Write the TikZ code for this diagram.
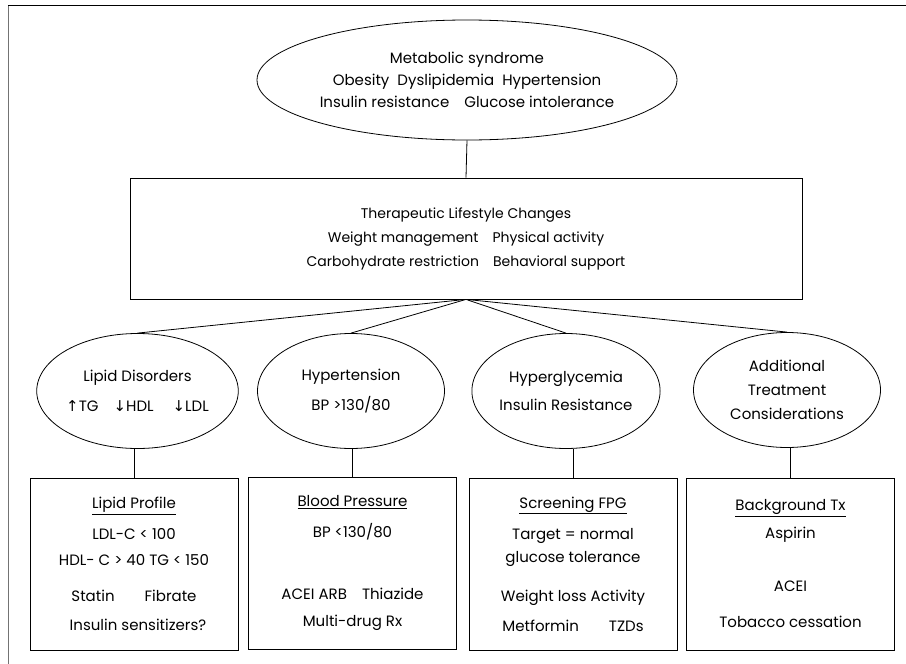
\documentclass[tikz,border=0pt]{standalone}
\usepackage{fontspec}
\setmainfont{Poppins}
\newfontfamily\arrowfont{DejaVu Sans}
\usetikzlibrary{shapes.geometric}
\tikzset{
    oval/.style={ellipse, draw, inner sep=0pt, align=center, font=\fontsize{15}{22}\selectfont},
    panel/.style={rectangle, draw, inner sep=0pt, align=center, font=\fontsize{15}{28}\selectfont},
    branch/.style={oval, minimum width=187pt, minimum height=115pt},
    goalbox/.style={panel, minimum width=208pt, minimum height=172pt}
}
\newcommand{\up}{{\arrowfont\char"2191}}
\newcommand{\down}{{\arrowfont\char"2193}}

\begin{document}
\begin{tikzpicture}[x=1pt, y=-1pt, every path/.style={line width=0.8pt}]
        \useasboundingbox (0,0) rectangle (906,664);

        % ---------------- frame ----------------
        \draw[black!55] (8,5) -- (8,664);
        \draw (8,5) -- (906,5);

        % ---------------- top level ----------------
        \node[oval, minimum width=420pt, minimum height=120pt] (mets) at (467,80)
            {Metabolic syndrome\\Obesity\ \ Dyslipidemia\ \ Hypertension\\Insulin resistance\quad Glucose intolerance};

        \node[panel, minimum width=672pt, minimum height=121pt, font=\fontsize{14}{24}\selectfont] (tlc) at (466,238.5)
            {Therapeutic Lifestyle Changes\\Weight management\quad Physical activity\\Carbohydrate restriction\quad Behavioral support};

        % ---------------- conditions ----------------
        \node[branch, font=\fontsize{15}{30}\selectfont] (lipid) at (137.5,391)
            {Lipid Disorders\\\up TG\quad\down HDL\quad\ \down LDL};
        \node[branch, font=\fontsize{15}{30}\selectfont] (htn) at (351,391)
            {Hypertension\\BP >130/80};
        \node[branch, font=\fontsize{15}{28}\selectfont] (glyc) at (566,391)
            {Hyperglycemia\\Insulin Resistance};
        \node[branch, font=\fontsize{15}{24}\selectfont] (extra) at (787,390)
            {Additional\\Treatment\\Considerations};

        % ---------------- targets and treatment ----------------
        \node[goalbox] (lipidbox) at (134,564)
            {\underline{Lipid Profile}\\[3pt]LDL-C < 100\\[-2pt]HDL- C > 40 TG < 150\\[8pt]Statin\qquad Fibrate\\[1pt]\ \ Insulin sensitizers?};
        \node[goalbox] (htnbox) at (352.5,563)
            {\underline{Blood Pressure}\\[3pt]BP <130/80\\[34pt]ACEI ARB\quad Thiazide\\[-1pt]Multi-drug Rx};
        \node[goalbox] (glycbox) at (573,564)
            {\underline{Screening FPG}\\[3pt]Target = normal\\[-5pt]glucose tolerance\\[11pt]Weight loss Activity\\[2pt]Metformin\qquad TZDs};
        \node[goalbox] (extrabox) at (790.5,564)
            {\underline{Background Tx}\\Aspirin\\[25pt]ACEI\\[8pt]Tobacco cessation};

        % ---------------- connectors ----------------
        \draw (mets.south) -- (tlc.north);
        \foreach \n in {lipid,htn,glyc,extra} {
            \draw (tlc.south) -- (\n.north);
            \draw (\n box.north) -- (\n box.north |- \n.south);
        }
    \end{tikzpicture}
\end{document}
